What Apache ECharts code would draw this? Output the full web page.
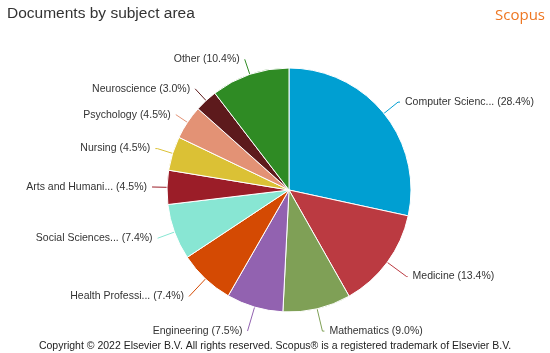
<!DOCTYPE html>
<html><head><meta charset="utf-8">
<script src="https://cdn.jsdelivr.net/npm/echarts@6/dist/echarts.min.js"></script>
<style>html,body{margin:0;padding:0;background:#fff}#c{width:550px;height:353px}</style>
</head><body><div id="c"></div>
<script>
const categories = ["Computer Scienc...", "Medicine", "Mathematics", "Engineering", "Health Professi...", "Social Sciences...", "Arts and Humani...", "Nursing", "Psychology", "Neuroscience", "Other"];
const values = [28.4, 13.4, 9.0, 7.5, 7.4, 7.4, 4.5, 4.5, 4.5, 3.0, 10.4];
const colors = ["#009fd2", "#bb3a41", "#7fa056", "#9262b0", "#d44a03", "#88e6d3", "#9b1d28", "#dbc135", "#e39275", "#5d1a1c", "#2f8b24"];
// leader line lengths per slice (style only)
const lineLen = [18, 24, 23, 25, 24, 18, 15, 16, 14, 16, 16];
const lineLen2 = [2, 1, 2, 0, 0, 0, 0, 2, 0, 0, 0];
const chart = echarts.init(document.getElementById('c'));
const ff = 'Liberation Sans, Arial, sans-serif';
chart.setOption({
  animation: false,
  textStyle: {fontFamily: ff},
  title: [
    {text: 'Documents by subject area', left: 2, top: 1, textStyle: {fontSize: 15.5, fontWeight: 'normal', color: '#333', fontFamily: ff}},
    {text: 'Scopus', right: 0, top: 3, textStyle: {fontSize: 15, fontWeight: 'normal', color: '#ee7621', fontFamily: 'Open Sans, Liberation Sans, sans-serif'}},
    {text: 'Copyright © 2022 Elsevier B.V. All rights reserved. Scopus® is a registered trademark of Elsevier B.V.', left: 'center', top: 336, textStyle: {fontSize: 10.5, fontWeight: 'normal', color: '#222', fontFamily: ff}}
  ],
  series: [{
    type: 'pie',
    center: [289, 190],
    radius: [0, 122],
    startAngle: 90,
    clockwise: true,
    data: categories.map((n, i) => ({name: n, value: values[i], itemStyle: {color: colors[i]}, labelLine: {length: lineLen[i], length2: lineLen2[i]}})),
    itemStyle: {borderColor: '#fff', borderWidth: 1},
    label: {formatter: p => p.name + ' (' + p.value.toFixed(1) + '%)', fontSize: 10.5, color: '#333', fontFamily: ff},
    labelLine: {lineStyle: {width: 1}}
  }]
});
</script></body></html>
